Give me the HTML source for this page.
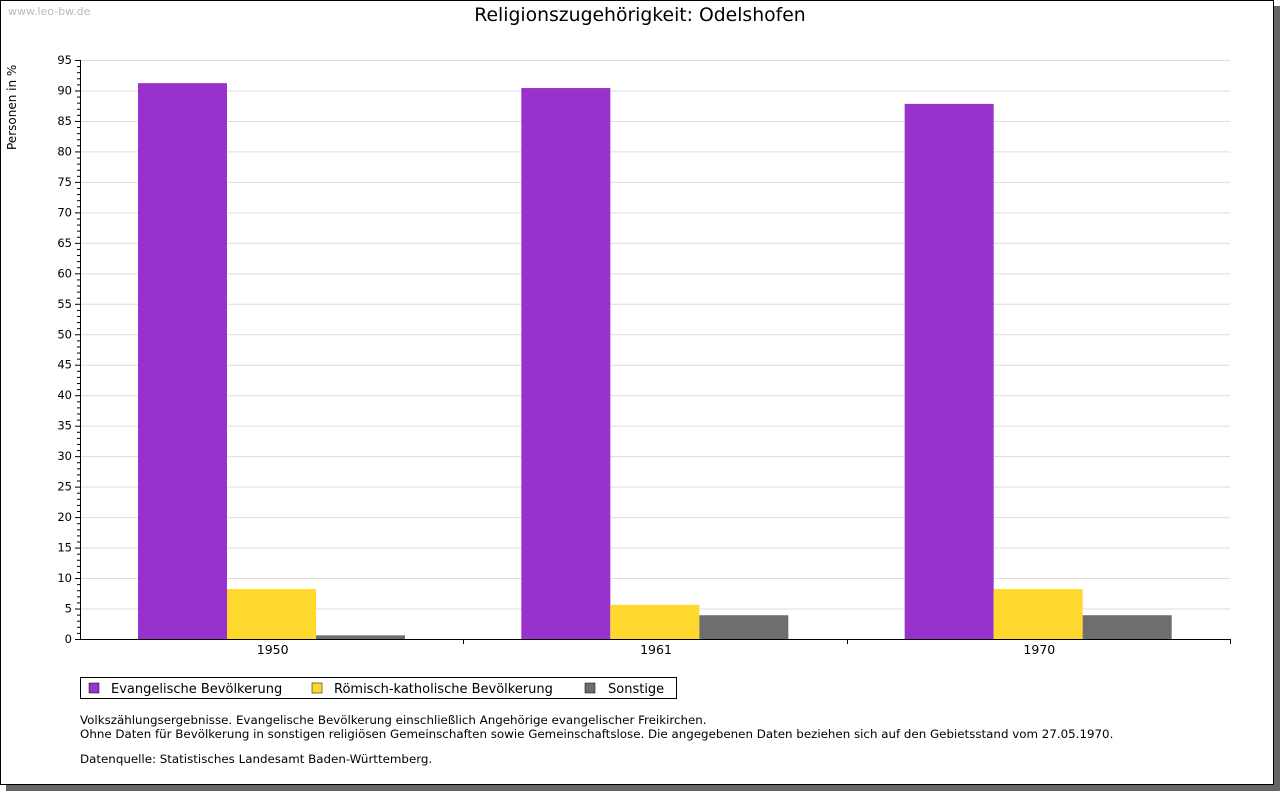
<!DOCTYPE html>
<html><head><meta charset="utf-8"><style>
body{margin:0;width:1280px;height:791px;background:#fff;overflow:hidden;font-family:"DejaVu Sans","Liberation Sans",sans-serif;}
svg text{font-family:"DejaVu Sans","Liberation Sans",sans-serif;}
</style></head><body>
<svg id="chart" width="1280" height="791">
<rect x="6" y="6" width="1274" height="785" fill="#666"/>
<rect x="0.5" y="0.5" width="1273" height="784" fill="#fff" stroke="#000"/>
<text x="8" y="15" font-size="11" fill="#bbb">www.leo-bw.de</text>
<text x="640" y="21" font-size="18.8" text-anchor="middle">Religionszugehörigkeit: Odelshofen</text>
<text transform="translate(16,150) rotate(-90)" font-size="12">Personen in %</text>
<g id="grid"></g><g id="bars"></g><g id="axes"></g>
<g>
<rect x="80.5" y="677.5" width="596" height="21" fill="#fff" stroke="#000"/>
<rect x="89" y="683" width="10" height="10" fill="#9932CC" stroke="#000" stroke-width="0.5"/>
<text x="111" y="693" font-size="13">Evangelische Bevölkerung</text>
<rect x="312" y="683" width="10" height="10" fill="#FFD82D" stroke="#000" stroke-width="0.5"/>
<text x="334" y="693" font-size="13">Römisch-katholische Bevölkerung</text>
<rect x="585" y="683" width="10" height="10" fill="#6E6E6E" stroke="#000" stroke-width="0.5"/>
<text x="608" y="693" font-size="13">Sonstige</text>
</g>
<g font-size="11.85">
<text x="80" y="724">Volkszählungsergebnisse. Evangelische Bevölkerung einschließlich Angehörige evangelischer Freikirchen.</text>
<text x="80" y="738">Ohne Daten für Bevölkerung in sonstigen religiösen Gemeinschaften sowie Gemeinschaftslose. Die angegebenen Daten beziehen sich auf den Gebietsstand vom 27.05.1970.</text>
<text x="80" y="763">Datenquelle: Statistisches Landesamt Baden-Württemberg.</text>
</g>
</svg>
<script>
const categories=["1950","1961","1970"];
const evangelisch=[91.2,90.4,87.8];
const katholisch=[8.2,5.6,8.2];
const sonstige=[0.6,3.9,3.9];
const yTicks=[0,5,10,15,20,25,30,35,40,45,50,55,60,65,70,75,80,85,90,95];
const NS="http://www.w3.org/2000/svg";
const X0=80,X1=1230,Y0=639,Y1=60,YMAX=95;
const y=v=>Y0-(v/YMAX)*(Y0-Y1);
const gw=(X1-X0)/categories.length;
function mk(t,a,p){const e=document.createElementNS(NS,t);for(const k in a)e.setAttribute(k,a[k]);p.appendChild(e);return e;}
const grid=document.getElementById('grid'),bars=document.getElementById('bars'),axes=document.getElementById('axes');
yTicks.forEach(v=>{
 if(v>0){const l=mk('line',{x1:X0,x2:X1,y1:y(v)+0.5,y2:y(v)+0.5,stroke:'#ddd'},grid);
 
 }
 mk('line',{x1:X0-5,x2:X0,y1:y(v)+0.5,y2:y(v)+0.5,stroke:'#000'},axes);
 const t=mk('text',{x:X0-8,y:y(v)+4,'font-size':11.5,'text-anchor':'end'},axes);t.textContent=v;
 
 
});
for(let v=0;v<=YMAX;v++){if(v%5)mk('line',{x1:X0-3,x2:X0,y1:y(v)+0.5,y2:y(v)+0.5,stroke:'#000'},axes);}
const series=[[evangelisch,'#9932CC','evangelisch'],[katholisch,'#FFD82D','katholisch'],[sonstige,'#6E6E6E','sonstige']];
const bw=89,off=58;
categories.forEach((c,i)=>{
 const gx=X0+i*gw;
 series.forEach((s,j)=>{
  const r=mk('rect',{x:gx+off+j*bw,y:y(s[0][i]),width:bw,height:Y0-y(s[0][i]),fill:s[1]},bars);
  
  
 });
 const t=mk('text',{x:gx+gw/2+1,y:Y0+15,'font-size':12.5,'text-anchor':'middle'},axes);t.textContent=c;
 
 
 mk('line',{x1:Math.round(gx+gw)+0.5,x2:Math.round(gx+gw)+0.5,y1:Y0,y2:Y0+5,stroke:'#000'},axes);
});
mk('line',{x1:X0+0.5,x2:X0+0.5,y1:Y1,y2:Y0,stroke:'#000'},axes);
mk('line',{x1:X0,x2:X1+1,y1:Y0+0.5,y2:Y0+0.5,stroke:'#000'},axes);
</script>
</body></html>
